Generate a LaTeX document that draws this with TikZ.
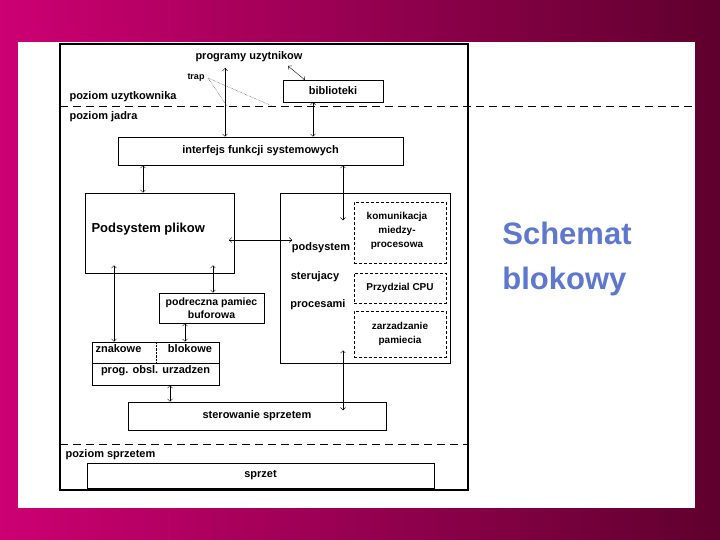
\documentclass[tikz,border=0pt]{standalone}
\usepackage{fontspec}
\setmainfont{Liberation Sans}
\usetikzlibrary{positioning, arrows}
\definecolor{bgpink}{RGB}{205,0,115}
\definecolor{bgdark}{RGB}{95,0,45}
\definecolor{titleblue}{RGB}{95,120,205}
\begin{document}
\begin{tikzpicture}[x=1pt,y=-1pt]
    % settings for the whole picture
    \tikzset{
      font=\bfseries\fontsize{11}{13}\selectfont,
      box/.style={draw, semithick, inner sep=0pt},
      sub/.style={draw, densely dashed, thin},
      link/.style={<->, >=angle 90, thin},
      level/.style={dashed, thick, dash pattern=on 8pt off 5pt},
    }

    % background and panel
    \shade[left color=bgpink, right color=bgdark] (0,0) rectangle (720,540);
    \fill[white] (18,42) rectangle (695,508);
    \draw[line width=2pt] (60,44) rectangle (468,490);

    % levels
    \draw[level] (60,106) -- (695,106);
    \draw[level] (60,444) -- (468,444);
    \node[anchor=west] (user) at (66,97) {poziom uzytkownika};
    \node[anchor=west] (kernel) at (66,117) {poziom jadra};
    \node[anchor=west] (hw) at (62,455) {poziom sprzetem};

    % boxes
    \node (prog) at (249,57) {programy uzytnikow};
    \node[font=\bfseries\fontsize{9}{10}\selectfont] (trap) at (196,78) {trap};
    \node[box, minimum width=100, minimum height=22] (lib) at (333,91) {biblioteki};
    \node[box, minimum width=285, minimum height=28] (sys) at (260.5,151) {interfejs funkcji systemowych};
    \node[box, minimum width=149, minimum height=80] (fs) at (159.5,233) {};
    \node[font=\bfseries\fontsize{13}{15}\selectfont, anchor=west] (fstext) at (88,229) {Podsystem plikow};
    \node[box, minimum width=170, minimum height=170] (proc) at (365,278) {};
    \node (ps1) at (321,248) {podsystem};
    \node (ps2) at (315,277) {sterujacy};
    \node (ps3) at (318,305) {procesami};
    \node[sub, minimum width=92, minimum height=61, align=center] (ipc) at (400,232.5) {};
    \node[align=center, font=\bfseries\fontsize{10}{14}\selectfont] (ipctext) at (397,231) {komunikacja\\miedzy-\\procesowa};
    \node[sub, minimum width=92, minimum height=30, font=\bfseries\fontsize{10}{12}\selectfont] (cpu) at (400,288) {Przydzial CPU};
    \node[sub, minimum width=92, minimum height=46, align=center, font=\bfseries\fontsize{10}{14}\selectfont] (mem) at (400,334) {zarzadzanie\\pamiecia};
    \node[box, minimum width=105, minimum height=30, align=center, font=\bfseries\fontsize{10.5}{13}\selectfont] (buf) at (211.5,308) {podreczna pamiec\\buforowa};
    \node[box, minimum width=127, minimum height=43] (drv) at (155.5,363.5) {};
    \node[anchor=west] (chr) at (92,349) {znakowe};
    \node (blk) at (190,349) {blokowe};
    \node (drvtext) at (155.5,371) {prog. obsl. urzadzen};
    \draw[semithick] (drv.west) -- (drv.east);
    \draw[densely dotted] (156,342) -- (156,363);
    \node[box, minimum width=258, minimum height=28] (ctl) at (257,416) {sterowanie sprzetem};
    \node[box, minimum width=347, minimum height=25] (hwbox) at (260.5,475.5) {sprzet};

    % connectors
    \coordinate (p1) at (225,68);
    \draw[link] (p1) -- (p1 |- sys.north);
    \coordinate (p2) at (288,66);
    \coordinate (p3) at (305,80);
    \draw[link] (p2) -- (p3);
    \coordinate (l1) at (313,102);
    \draw[link] (l1) -- (l1 |- sys.north);
    \draw[link] (sys.south -| 143,0) coordinate (s1) -- (s1 |- fs.north);
    \draw[link] (sys.south -| 343,0) coordinate (s2) -- ++(0,55);
    \coordinate (f1) at (229,240);
    \draw[link] (f1) -- (292,240);
    \draw[link] (fs.south -| 114,0) ++(0,-8) coordinate (f2) -- (f2 |- drv.north);
    \draw[link] (fs.south -| 213,0) ++(0,-8) coordinate (f3) -- (f3 |- buf.north);
    \draw[link] (buf.south -| 185,0) coordinate (b1) -- (b1 |- drv.north);
    \draw[link] (drv.south -| 170,0) coordinate (d1) -- (d1 |- ctl.north);
    \draw[link] (proc.south -| 343,0) ++(0,-13) coordinate (m1) -- ++(0,60);

    % trap hints
    \draw[densely dotted] (trap.east) -- (227,106);
    \draw[densely dotted] (trap.east) -- (272,106);

    % title
    \node[font=\fontsize{31}{45}\selectfont\bfseries, text=titleblue, align=left] (title) at (567,259) {Schemat\\blokowy};
\end{tikzpicture}
\end{document}
